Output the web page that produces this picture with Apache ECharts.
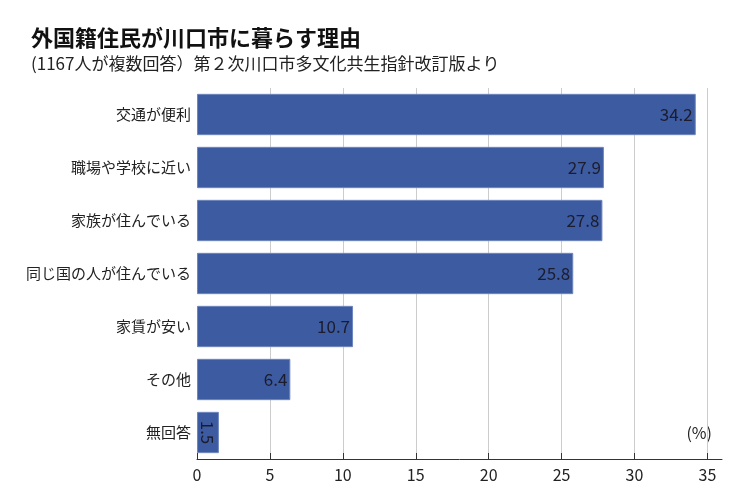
<!DOCTYPE html>
<html><head><meta charset="utf-8">
<script src="https://cdn.jsdelivr.net/npm/echarts@6/dist/echarts.min.js"></script>
<style>html,body{margin:0;padding:0;background:#fff}#c{width:750px;height:500px}</style>
</head><body><div id="c"></div>
<script>
const categories = ['交通が便利','職場や学校に近い','家族が住んでいる','同じ国の人が住んでいる','家賃が安い','その他','無回答'];
const values = [34.2, 27.9, 27.8, 25.8, 10.7, 6.4, 1.5];
const xTicks = [0, 5, 10, 15, 20, 25, 30, 35];
const titleText = '外国籍住民が川口市に暮らす理由';
const subText = '(1167人が複数回答）第２次川口市多文化共生指針改訂版より';
const unitText = '(%)';

const FONT = '"Noto Sans CJK JP", "Noto Sans", sans-serif';
const data = values.map((v, i) => {
  const d = { value: v };
  if (v < 3) {
    d.label = { position: 'inside', rotate: -90 };
  }
  return d;
});
const gridColors = ['rgba(0,0,0,0)'].concat(xTicks.slice(1).map(() => '#cccccc')).concat(['rgba(0,0,0,0)']);
const chart = echarts.init(document.getElementById('c'));
chart.setOption({
  animation: false,
  title: [
    { text: titleText, left: 26, top: 22, textStyle: { fontFamily: FONT, fontSize: 22, fontWeight: 'bold', color: '#111' } },
    { text: subText, left: 26, top: 50, textStyle: { fontFamily: FONT, fontSize: 17, fontWeight: 'normal', color: '#222' } }
  ],
  grid: { left: 197, right: 28, top: 88, bottom: 41 },
  xAxis: {
    type: 'value', min: 0, max: 36, interval: 5,
    axisLine: { show: true, lineStyle: { color: '#333', width: 1 } },
    axisTick: { show: true, inside: true, length: 6, customValues: xTicks, lineStyle: { color: '#333' } },
    axisLabel: { fontFamily: FONT, fontSize: 16, color: '#222', margin: 8, customValues: xTicks },
    splitLine: { show: true, lineStyle: { color: gridColors, width: 1 } }
  },
  yAxis: {
    type: 'category', inverse: true, data: categories,
    axisLine: { show: false }, axisTick: { show: false },
    axisLabel: { fontFamily: FONT, fontSize: 15, color: '#222', margin: 6 }
  },
  series: [{
    type: 'bar', data: data, barCategoryGap: '22%',
    itemStyle: { color: '#3d5ba1', borderColor: '#6f86bd', borderWidth: 1 },
    label: { show: true, position: 'insideRight', distance: 3, fontFamily: FONT, fontSize: 17, color: '#1c1c2c' }
  }],
  graphic: [{ type: 'text', right: 38, top: 425, style: { text: unitText, font: '16px ' + FONT, fill: '#222' } }]
});
</script></body></html>
